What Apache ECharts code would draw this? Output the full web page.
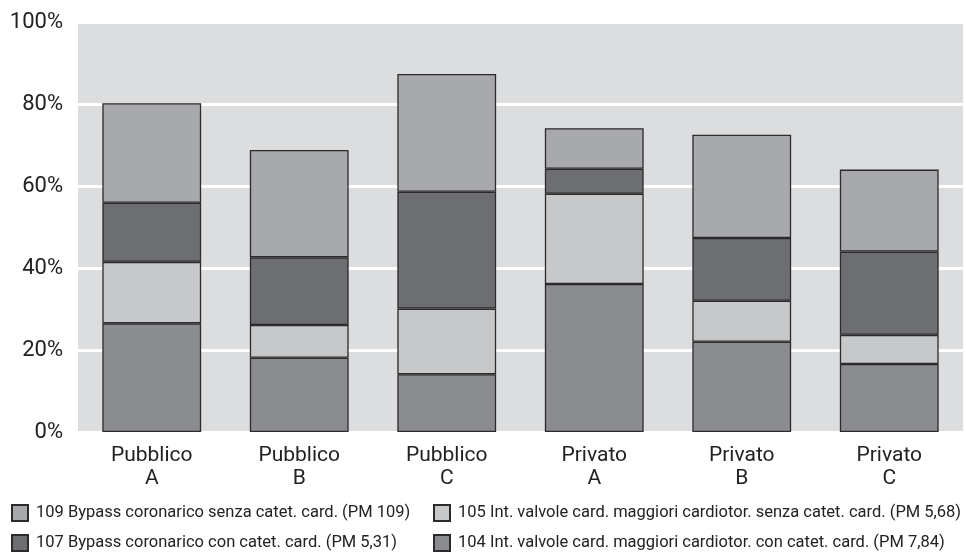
<!DOCTYPE html>
<html>
<head>
<meta charset="utf-8">
<title>DRG cardiochirurgia</title>
<script src="https://cdn.jsdelivr.net/npm/echarts@6/dist/echarts.min.js"></script>
<style>
  html, body { margin: 0; padding: 0; background: #fff; }
  #chart { width: 966px; height: 552px; }
</style>
</head>
<body>
<div id="chart"></div>
<script>
// Categories (struttura)
const categories = ['Pubblico\nA', 'Pubblico\nB', 'Pubblico\nC', 'Privato\nA', 'Privato\nB', 'Privato\nC'];

// Share of each DRG (%), stacked bottom to top
const drg104 = [26.5, 18.1, 14.1, 36.1, 22.0, 16.6];
const drg105 = [15.0, 8.0, 16.0, 22.0, 10.0, 7.1];
const drg107 = [14.4, 16.5, 28.5, 6.1, 15.3, 20.3];
const drg109 = [24.3, 26.2, 28.7, 9.9, 25.2, 20.0];

const yTicks = [0, 20, 40, 60, 80, 100];

const names = {
  d109: '109 Bypass coronarico senza catet. card. (PM 109)',
  d105: '105 Int. valvole card. maggiori cardiotor. senza catet. card. (PM 5,68)',
  d107: '107 Bypass coronarico con catet. card. (PM 5,31)',
  d104: '104 Int. valvole card. maggiori cardiotor. con catet. card. (PM 7,84)'
};

const font = 'Roboto, "Liberation Sans", sans-serif';

const chart = echarts.init(document.getElementById('chart'));

const makeSeries = (name, data, color) => ({
  name,
  type: 'bar',
  stack: 'total',
  data,
  barWidth: '67%',
  itemStyle: {
    color,
    borderColor: '#2b2b2b',
    borderWidth: 1.3
  }
});

// one legend per entry so the 2x2 layout sits exactly as in the print
const legendAt = (name, left, top) => ({
  left,
  top,
  data: [name],
  icon: 'rect',
  itemWidth: 16,
  itemHeight: 16,
  selectedMode: false,
  textStyle: { fontFamily: font, fontSize: 16.5, color: '#222', padding: [0, 0, 0, 3] }
});

chart.setOption({
  animation: false,
  textStyle: { fontFamily: font },
  grid: {
    left: 78,
    right: 3,
    top: 22,
    bottom: 120,
    show: true,
    backgroundColor: '#dcdddf',
    borderWidth: 0
  },
  legend: [
    legendAt(names.d109, 6, 499),
    legendAt(names.d105, 428, 499),
    legendAt(names.d107, 6, 529),
    legendAt(names.d104, 428, 529)
  ],
  xAxis: {
    type: 'category',
    data: categories,
    axisLine: { show: false },
    axisTick: { show: false },
    axisLabel: {
      color: '#222',
      fontSize: 21,
      lineHeight: 23,
      margin: 12,
      fontFamily: font
    }
  },
  yAxis: {
    type: 'value',
    min: yTicks[0],
    max: yTicks[yTicks.length - 1],
    interval: 20,
    axisLine: { show: false },
    axisTick: { show: false },
    axisLabel: {
      formatter: '{value}%',
      color: '#222',
      fontSize: 22,
      margin: 15,
      fontFamily: font
    },
    splitLine: { lineStyle: { color: '#ffffff', width: 3 } }
  },
  series: [
    makeSeries(names.d104, drg104, '#8b8c90'),
    makeSeries(names.d105, drg105, '#c7c8ca'),
    makeSeries(names.d107, drg107, '#6d6e72'),
    makeSeries(names.d109, drg109, '#a8a9ad')
  ]
});
</script>
</body>
</html>
